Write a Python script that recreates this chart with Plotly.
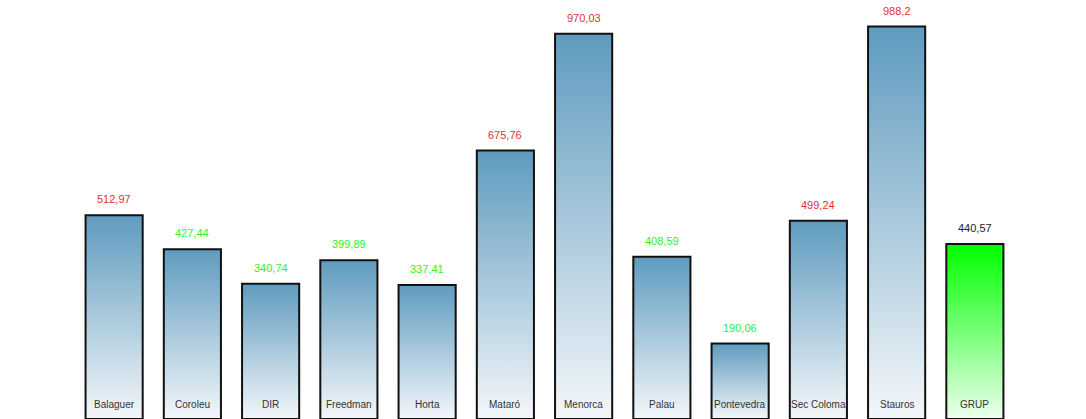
import plotly.graph_objects as go

categories = ["Balaguer", "Coroleu", "DIR", "Freedman", "Horta", "Mataró", "Menorca",
              "Palau", "Pontevedra", "Sec Coloma", "Stauros", "GRUP"]
values = [512.97, 427.44, 340.74, 399.89, 337.41, 675.76, 970.03,
          408.59, 190.06, 499.24, 988.2, 440.57]
reference_name = "GRUP"

BLUE_SCALE = [[0, "#f4f7fa"], [1, "#5f9bbf"]]
GREEN_SCALE = [[0, "#eeffee"], [1, "#00ff00"]]
RED_TXT = "#dd3333"
GREEN_TXT = "#33ee33"
HALF_W = 0.365

ref_val = values[categories.index(reference_name)]

fig = go.Figure()
annotations = []
for i, (name, v) in enumerate(zip(categories, values)):
    is_ref = name == reference_name
    fig.add_trace(go.Scatter(
        x=[i - HALF_W, i + HALF_W, i + HALF_W, i - HALF_W, i - HALF_W],
        y=[0, 0, v, v, 0],
        mode="lines",
        fill="toself",
        fillgradient=dict(type="vertical", colorscale=GREEN_SCALE if is_ref else BLUE_SCALE,
                          start=0, stop=v),
        line=dict(color="#111111", width=2),
        hoverinfo="skip",
        showlegend=False,
        cliponaxis=False,
    ))
    if is_ref:
        col = "#222222"
    elif v > ref_val:
        col = RED_TXT
    else:
        col = GREEN_TXT
    annotations.append(dict(x=i, y=v, xref="x", yref="y", text=str(v).replace(".", ","),
                            showarrow=False, yanchor="bottom", yshift=8,
                            font=dict(color=col, size=11, family="Liberation Sans, Arial")))
    annotations.append(dict(x=i, y=0, xref="x", yref="y", text=name,
                            showarrow=False, yanchor="bottom", yshift=7,
                            font=dict(color="#333333", size=10, family="Liberation Sans, Arial")))

fig.update_layout(
    width=1086, height=419,
    margin=dict(l=75, r=72, t=0, b=0),
    paper_bgcolor="white", plot_bgcolor="white",
    xaxis=dict(range=[-0.5, len(categories) - 0.5], visible=False, fixedrange=True),
    yaxis=dict(range=[0, 1055], visible=False, fixedrange=True),
    annotations=annotations,
)

fig.write_html("out.html",
               config={"displayModeBar": False},
               post_script="document.body.style.margin='0';document.body.style.overflow='hidden';")
